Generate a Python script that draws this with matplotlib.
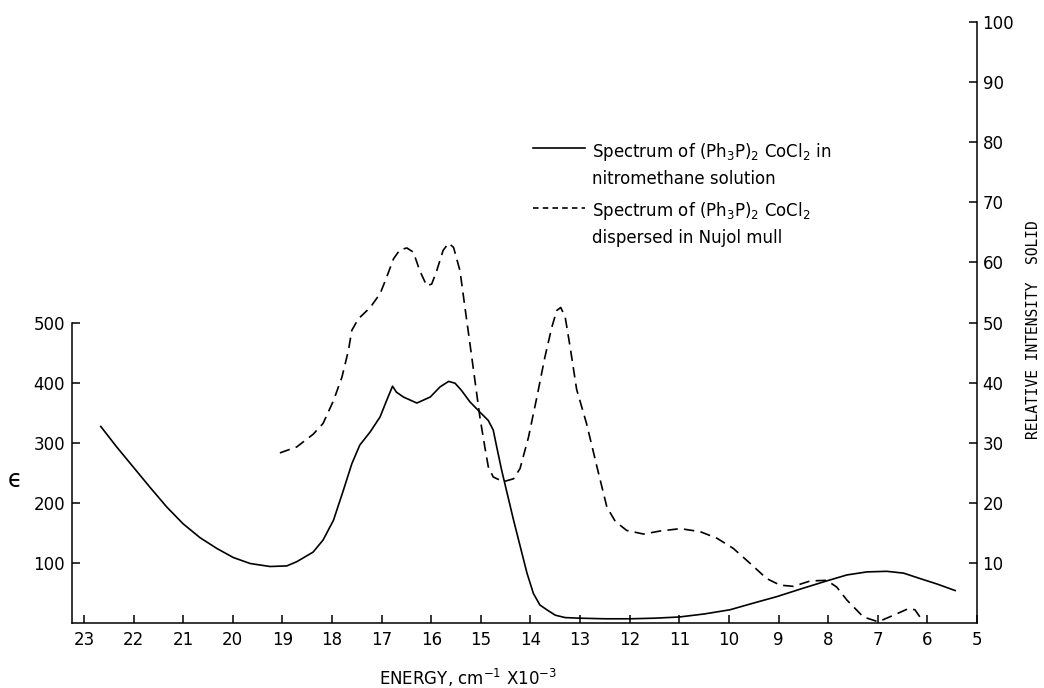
import matplotlib
matplotlib.use('Agg')
import matplotlib.pyplot as plt

# Solution spectrum (left axis, epsilon) - energy in cm^-1 x 10^-3
solution_energy = [22.66, 22.34, 22.01, 21.67, 21.33, 21.00, 20.66, 20.32, 19.99,
                   19.65, 19.25, 18.91, 18.71, 18.38, 18.18, 17.97, 17.77, 17.60,
                   17.44, 17.23, 17.03, 16.90, 16.78, 16.70, 16.56, 16.29, 16.02,
                   15.82, 15.65, 15.52, 15.39, 15.22, 15.02, 14.85, 14.75, 14.68,
                   14.58, 14.34, 14.07, 13.94, 13.81, 13.67, 13.50, 13.30, 13.00,
                   12.50, 12.00, 11.50, 11.00, 10.50, 9.98, 9.51, 9.03, 8.50,
                   8.03, 7.62, 7.22, 6.82, 6.48, 6.15, 5.81, 5.44]
solution_eps = [327, 293, 260, 226, 193, 165, 142, 124, 109,
                99, 94, 95, 102, 118, 138, 171, 221, 265,
                296, 318, 343, 370, 394, 384, 376, 366, 376,
                393, 402, 399, 387, 368, 351, 337, 321, 293,
                254, 171, 83, 49, 30, 22, 13, 9, 8,
                7, 7, 8, 10, 15, 22, 33, 44, 58,
                70, 80, 85, 86, 83, 74, 65, 54]

# Nujol mull spectrum (right axis, relative intensity)
mull_energy = [19.05, 18.71, 18.38, 18.18, 17.97, 17.80, 17.67, 17.60, 17.47,
               17.23, 17.03, 16.90, 16.76, 16.63, 16.49, 16.36, 16.23, 16.09,
               15.99, 15.89, 15.76, 15.65, 15.55, 15.42, 15.32, 15.22, 15.12,
               15.02, 14.92, 14.85, 14.75, 14.55, 14.34, 14.21, 14.04, 13.87,
               13.71, 13.57, 13.47, 13.39, 13.30, 13.20, 13.07, 12.87, 12.66,
               12.46, 12.29, 12.06, 11.72, 11.39, 10.98, 10.58, 10.24, 9.91,
               9.57, 9.24, 8.97, 8.70, 8.36, 8.03, 7.83, 7.62, 7.49,
               7.29, 6.99, 6.68, 6.38, 6.25, 6.15, 6.11]
mull_rel = [28.3, 29.3, 31.4, 33.2, 37.0, 40.9, 45.3, 48.7, 50.6,
            52.5, 54.8, 57.5, 60.6, 62.1, 62.4, 61.7, 58.6, 56.1,
            56.4, 58.6, 62.0, 63.2, 62.5, 58.6, 52.5, 46.5, 40.4,
            34.3, 29.3, 26.0, 24.3, 23.5, 24.0, 25.7, 30.9, 37.6,
            44.2, 49.2, 52.0, 52.5, 50.9, 45.9, 38.9, 33.2, 26.0,
            19.3, 16.9, 15.4, 14.8, 15.3, 15.7, 15.2, 14.1, 12.4,
            9.9, 7.4, 6.3, 6.1, 7.0, 7.1, 6.0, 3.8, 2.7,
            1.0, 0.2, 1.3, 2.4, 2.2, 1.0, 0.2]

x_ticks = list(range(23, 4, -1))
left_ticks = [100, 200, 300, 400, 500]
right_ticks = [10, 20, 30, 40, 50, 60, 70, 80, 90, 100]

plt.rcParams['font.family'] = 'DejaVu Sans'
plt.rcParams['mathtext.fontset'] = 'dejavusans'
plt.rcParams['lines.scale_dashes'] = False

fig = plt.figure(figsize=(10.44, 6.88), dpi=100)
ax = fig.add_axes([72 / 1044, 65 / 688, 905 / 1044, 601 / 688])
ax2 = ax.twinx()

lw = 1.2
ax.plot(solution_energy, solution_eps, color='black', linewidth=lw,
        solid_joinstyle='round', clip_on=False)
ax2.plot(mull_energy, mull_rel, color='black', linewidth=lw, dashes=(7.5, 4.5),
         clip_on=False)

ax.set_xlim(23.24, 5)
ax.set_ylim(0, 1000)
ax2.set_ylim(0, 100)

ax.set_xticks(x_ticks)
ax.set_xticklabels([str(t) for t in x_ticks])
ax.set_yticks(left_ticks)
ax2.set_yticks(right_ticks)

for a in (ax, ax2):
    a.tick_params(direction='in', length=6, width=1.1, labelsize=12, pad=5)
    a.spines['top'].set_visible(False)
ax.spines['right'].set_visible(False)
ax2.spines['left'].set_visible(False)
ax2.spines['bottom'].set_visible(False)
ax.spines['left'].set_bounds(0, 500)
for s in ('left', 'bottom'):
    ax.spines[s].set_linewidth(1.1)
ax2.spines['right'].set_linewidth(1.1)
ax.tick_params(axis='x', pad=6)
ax2.tick_params(axis='y', pad=4)

# legend drawn by hand so the key sits on the first text line
ax.plot([0.509, 0.567], [0.790, 0.790], transform=ax.transAxes,
        color='black', linewidth=lw, clip_on=False)
ax.plot([0.509, 0.567], [0.690, 0.690], transform=ax.transAxes,
        color='black', linewidth=lw, dashes=(4, 3), clip_on=False)
tx = 0.575
ax.text(tx, 0.775, r'Spectrum of (Ph$_3$P)$_2$ CoCl$_2$ in', transform=ax.transAxes,
        fontsize=12, va='baseline')
ax.text(tx, 0.730, 'nitromethane solution', transform=ax.transAxes,
        fontsize=12, va='baseline')
ax.text(tx, 0.677, r'Spectrum of (Ph$_3$P)$_2$ CoCl$_2$', transform=ax.transAxes,
        fontsize=12, va='baseline')
ax.text(tx, 0.633, 'dispersed in Nujol mull', transform=ax.transAxes,
        fontsize=12, va='baseline')

fig.text(15 / 1044, 1 - 480 / 688, '\u03f5', fontsize=17, ha='center', va='center')
fig.text(468 / 1044, 1 - 678 / 688, r'ENERGY, cm$^{-1}$ X10$^{-3}$', fontsize=12,
         ha='center', va='center')
fig.text(1033 / 1044, 1 - 330 / 688, 'RELATIVE INTENSITY  SOLID', fontsize=10.5,
         family='DejaVu Sans Mono', rotation=90, ha='center', va='center')

fig.savefig('out.png', dpi=100)
